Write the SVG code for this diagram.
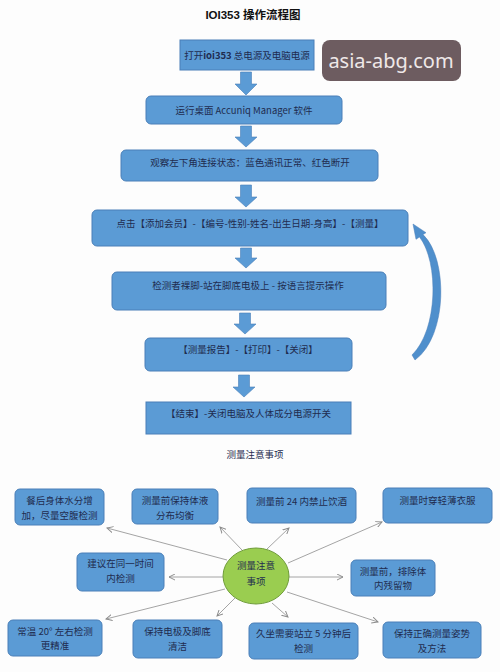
<svg xmlns="http://www.w3.org/2000/svg" width="500" height="672" viewBox="0 0 500 672">
<defs>
<style>
.box{fill:#5b9bd5;stroke:#4a7fb8;stroke-width:1}
.t{font-family:"Noto Sans CJK SC","Liberation Serif",serif;font-size:9.5px;fill:#1f2c4f;text-anchor:middle}
.tb{font-family:"Noto Sans CJK SC","Liberation Serif",serif;font-size:9.5px;fill:#1f2c4f;text-anchor:middle}
.barrow{fill:#5b9bd5;stroke:#4a7fb8;stroke-width:0.6}
.con{stroke:#9a9a9a;stroke-width:0.9;fill:none;marker-end:url(#ah)}
</style>
<marker id="ah" viewBox="0 0 8 8" refX="7" refY="4" markerWidth="7" markerHeight="7" orient="auto" markerUnits="userSpaceOnUse">
<path d="M0,0.5 L7,4 L0,7.5" fill="none" stroke="#8a8a8a" stroke-width="1.1"/>
</marker>
</defs>
<rect width="500" height="672" fill="#fdfdfd"/>
<text x="253" y="19" font-family="'Liberation Sans','Noto Sans CJK SC',sans-serif" font-size="11.5" font-weight="bold" fill="#111" text-anchor="middle">IOI353  操作流程图</text>

<g id="watermark">
<rect x="322" y="40" width="139" height="41" rx="8" fill="#6d5c60"/>
<text x="391" y="68" font-family="'Noto Sans','DejaVu Sans',sans-serif" font-size="20" fill="#efe8e8" text-anchor="middle">asia-abg.com</text>
</g>

<g id="step1"><rect class="box" x="180" y="40" width="134" height="30"/><text class="t" x="247" y="58.5">打开<tspan font-weight="bold">ioi353</tspan> 总电源及电脑电源</text></g>
<g id="step2"><rect class="box" x="146" y="96" width="196" height="28" rx="5"/><text class="t" x="244" y="113.5">运行桌面 Accuniq Manager 软件</text></g>
<g id="step3"><rect class="box" x="121" y="150" width="257" height="31" rx="5"/><text class="t" x="250" y="165.5">观察左下角连接状态：蓝色通讯正常、红色断开</text></g>
<g id="step4"><rect class="box" x="92" y="210" width="316" height="36" rx="5"/><text class="t" x="250" y="226.5">点击【添加会员】-【编号-性别-姓名-出生日期-身高】-【测量】</text></g>
<g id="step5"><rect class="box" x="112" y="272" width="274" height="38" rx="5"/><text class="t" x="248" y="288.5">检测者裸脚-站在脚底电极上  -  按语言提示操作</text></g>
<g id="step6"><rect class="box" x="145" y="338" width="207" height="33" rx="5"/><text class="t" x="248" y="352.5">【测量报告】-【打印】-【关闭】</text></g>
<g id="step7"><rect class="box" x="146" y="402" width="205" height="32"/><text class="t" x="248.5" y="416.5">【结束】-关闭电脑及人体成分电源开关</text></g>

<g id="flow-arrows">
<path class="barrow" d="M240.5,72 h11 v12 h5.5 l-11,11 l-11,-11 h5.5 z"/>
<path class="barrow" d="M240.5,126 h11 v11 h5.5 l-11,10 l-11,-10 h5.5 z"/>
<path class="barrow" d="M240.5,185 h11 v12 h5.5 l-11,10 l-11,-10 h5.5 z"/>
<path class="barrow" d="M240.5,248 h11 v10 h5.5 l-11,10 l-11,-10 h5.5 z"/>
<path class="barrow" d="M239.5,313 h11 v11 h5.5 l-11,10 l-11,-10 h5.5 z"/>
<path class="barrow" d="M238.5,375 h11 v12 h5.5 l-11,10 l-11,-10 h5.5 z"/>
<path fill="#4f8fcc" stroke="#4a7fb8" stroke-width="0.5" d="M413,224 L426,232.7 L423,234.6 C448,258 448,336 415,360 L412,355 C438,330 439,262 419.5,237 L416,239.3 Z"/>
</g>

<text class="t" x="255" y="457.5">测量注意事项</text>

<g id="connectors">
<line class="con" x1="227" y1="560" x2="107" y2="528"/>
<line class="con" x1="242" y1="550" x2="220" y2="527"/>
<line class="con" x1="267" y1="549" x2="289" y2="528"/>
<line class="con" x1="288" y1="563" x2="382" y2="522"/>
<line class="con" x1="223" y1="577" x2="169" y2="577"/>
<line class="con" x1="289" y1="577" x2="343" y2="577"/>
<line class="con" x1="225" y1="589" x2="106" y2="619"/>
<line class="con" x1="235" y1="598" x2="217" y2="616"/>
<line class="con" x1="272" y1="603" x2="288" y2="617"/>
<line class="con" x1="287" y1="592" x2="378" y2="622"/>
</g>

<g id="center"><ellipse cx="256" cy="576" rx="33" ry="28" fill="#9acd50" stroke="#6f9c3a" stroke-width="1"/><text class="tb" x="256" y="568.5">测量注意</text><text class="tb" x="256" y="585">事项</text></g>

<g id="n1"><rect class="box" x="15" y="489" width="89" height="36" rx="5"/><text class="tb" x="59.5" y="504">餐后身体水分增</text><text class="tb" x="59.5" y="518.5">加，尽量空腹检测</text></g>
<g id="n2"><rect class="box" x="132" y="489" width="86" height="35" rx="5"/><text class="tb" x="175" y="504">测量前保持体液</text><text class="tb" x="175" y="518.5">分布均衡</text></g>
<g id="n3"><rect class="box" x="247" y="488" width="109" height="35" rx="5"/><text class="tb" x="301.5" y="505">测量前 24 内禁止饮酒</text></g>
<g id="n4"><rect class="box" x="383" y="488" width="109" height="35" rx="5"/><text class="tb" x="437.5" y="504">测量时穿轻薄衣服</text></g>
<g id="n5"><rect class="box" x="77" y="553" width="87" height="38" rx="5"/><text class="tb" x="120.5" y="567">建议在同一时间</text><text class="tb" x="120.5" y="582">内检测</text></g>
<g id="n6"><rect class="box" x="351" y="560" width="84" height="36" rx="5"/><text class="tb" x="393" y="574.5">测量前，排除体</text><text class="tb" x="393" y="589">内残留物</text></g>
<g id="n7"><rect class="box" x="8" y="620" width="94" height="36" rx="5"/><text class="tb" x="55" y="634.5">常温 20° 左右检测</text><text class="tb" x="55" y="649">更精准</text></g>
<g id="n8"><rect class="box" x="133" y="620" width="89" height="38" rx="5"/><text class="tb" x="177.5" y="635">保持电极及脚底</text><text class="tb" x="177.5" y="650">清洁</text></g>
<g id="n9"><rect class="box" x="249" y="623" width="109" height="36" rx="5"/><text class="tb" x="303.5" y="637">久坐需要站立 5 分钟后</text><text class="tb" x="303.5" y="652">检测</text></g>
<g id="n10"><rect class="box" x="383" y="622" width="98" height="36" rx="5"/><text class="tb" x="432" y="636.5">保持正确测量姿势</text><text class="tb" x="432" y="651.5">及方法</text></g>
</svg>
